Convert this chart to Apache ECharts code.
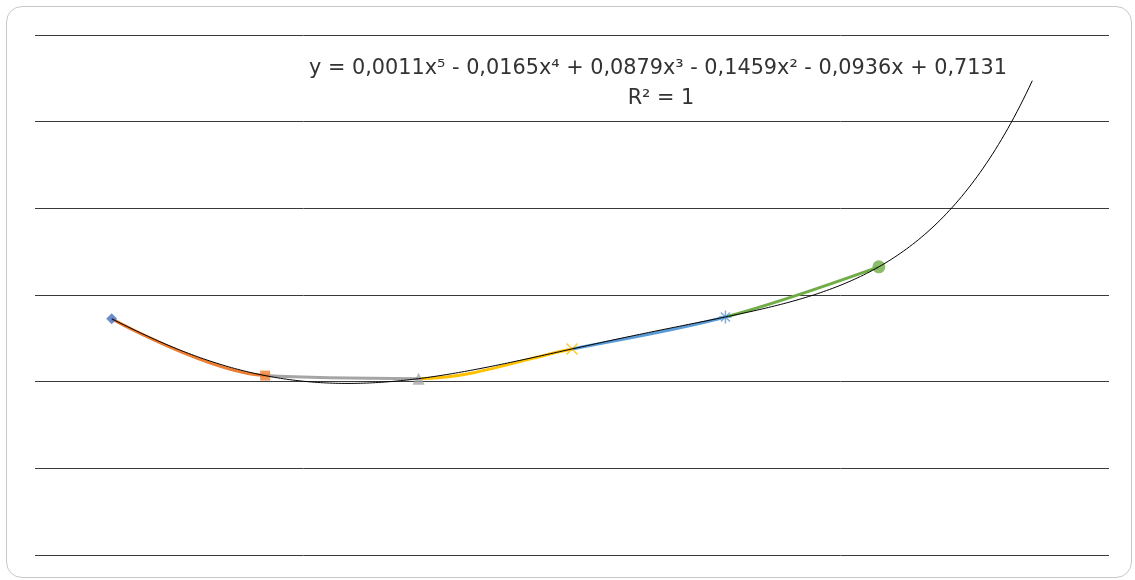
<!DOCTYPE html>
<html>
<head>
<meta charset="utf-8">
<script src="https://cdn.jsdelivr.net/npm/echarts@6/dist/echarts.min.js"></script>
<style>
  html, body { margin: 0; padding: 0; background: #ffffff; }
  #frame { position: absolute; left: 6px; top: 6px; width: 1126px; height: 572px; border: 1px solid #c8c8c8; border-radius: 16px; box-sizing: border-box; }
  #chart { position: absolute; left: 0; top: 0; width: 1135px; height: 580px; }
</style>
</head>
<body>
<div id="frame"></div>
<div id="chart"></div>
<script>
// ---- data ----
const xValues = [1, 2, 3, 4, 5, 6];
const yValues = [0.545, 0.414, 0.407, 0.4755, 0.5493, 0.665];
const pointSymbols = ['diamond', 'rect', 'triangle', 'x', 'star', 'circle'];
const pointColors = ['#4472C4', '#ED7D31', '#A5A5A5', '#FFC000', '#5B9BD5', '#70AD47'];
const segmentColors = ['#ED7D31', '#A5A5A5', '#FFC000', '#5B9BD5', '#70AD47'];
const trendDegree = 5;
const trendForward = 1;
const equationText = 'y = 0,0011x\u2075 - 0,0165x\u2074 + 0,0879x\u00B3 - 0,1459x\u00B2 - 0,0936x + 0,7131';
const r2Text = 'R\u00B2 = 1';

// ---- polynomial trendline (least-squares fit of the data) ----
function polyFit(xs, ys, deg) {
  const n = deg + 1;
  const A = [];
  for (let i = 0; i < n; i++) A.push(new Array(n + 1).fill(0));
  for (let k = 0; k < xs.length; k++) {
    for (let i = 0; i < n; i++) {
      for (let j = 0; j < n; j++) A[i][j] += Math.pow(xs[k], i + j);
      A[i][n] += ys[k] * Math.pow(xs[k], i);
    }
  }
  for (let c = 0; c < n; c++) {
    let p = c;
    for (let r = c + 1; r < n; r++) if (Math.abs(A[r][c]) > Math.abs(A[p][c])) p = r;
    [A[c], A[p]] = [A[p], A[c]];
    for (let r = 0; r < n; r++) {
      if (r === c) continue;
      const f = A[r][c] / A[c][c];
      for (let j = c; j <= n; j++) A[r][j] -= f * A[c][j];
    }
  }
  return A.map((row, i) => row[n] / row[i]);
}
const coef = polyFit(xValues, yValues, trendDegree);
const evalPoly = x => coef.reduce((s, c, i) => s + c * Math.pow(x, i), 0);
const trendData = [];
const xStart = xValues[0], xEnd = xValues[xValues.length - 1] + trendForward;
for (let i = 0; i <= 300; i++) {
  const x = xStart + (xEnd - xStart) * i / 300;
  trendData.push([x, evalPoly(x)]);
}

const xPath = 'path://M0,0L10,10M10,0L0,10';
const starPath = 'path://M5,0L5,10M0,5L10,5M1.5,1.5L8.5,8.5M8.5,1.5L1.5,8.5';

const series = [];
// smoothed connecting line, coloured per segment via visualMap
series.push({
  type: 'line',
  data: xValues.map((x, i) => [x, yValues[i]]),
  smooth: 0.35,
  showSymbol: false,
  symbol: 'none',
  lineStyle: { width: 3 },
  z: 2,
  silent: true
});
for (let i = 0; i < xValues.length; i++) {
  const sym = pointSymbols[i];
  let symbol = sym, size = 10, itemStyle = { color: pointColors[i] };
  if (sym === 'x') { symbol = xPath; size = 11; itemStyle = { color: 'none', borderColor: pointColors[i], borderWidth: 1.5 }; }
  if (sym === 'star') { symbol = starPath; size = 13; itemStyle = { color: 'none', borderColor: pointColors[i], borderWidth: 1.5 }; }
  if (sym === 'circle') size = 13;
  if (sym === 'diamond') size = 11;
  if (sym === 'triangle') size = 12;
  series.push({
    type: 'scatter',
    data: [[xValues[i], yValues[i]]],
    symbol: symbol,
    symbolSize: size,
    itemStyle: itemStyle,
    z: 3,
    silent: true
  });
}
series.push({
  type: 'line',
  data: trendData,
  showSymbol: false,
  symbol: 'none',
  lineStyle: { color: '#000000', width: 1 },
  z: 4,
  silent: true
});

const pieces = segmentColors.map((c, i) => ({ gte: xValues[i], lt: xValues[i + 1], color: c }));

const chart = echarts.init(document.getElementById('chart'), null, { renderer: 'canvas' });
chart.setOption({
  animation: false,
  backgroundColor: 'transparent',
  grid: { left: 35, right: 26, top: 35, bottom: 25 },
  visualMap: {
    show: false,
    type: 'piecewise',
    dimension: 0,
    seriesIndex: 0,
    pieces: pieces,
    outOfRange: { color: segmentColors[segmentColors.length - 1] }
  },
  xAxis: {
    type: 'value', min: 0.5, max: 7.5,
    show: false, splitLine: { show: false }
  },
  yAxis: {
    type: 'value', min: 0, max: 1.2, interval: 0.2,
    axisLine: { show: false }, axisTick: { show: false }, axisLabel: { show: false },
    splitLine: { show: true, lineStyle: { color: '#3a3a3a', width: 1 } }
  },
  graphic: [
    {
      type: 'text', x: 658, y: 69, z: 10,
      style: { text: equationText, fill: '#333333', align: 'center', verticalAlign: 'middle', font: '20.8px "DejaVu Sans", sans-serif' }
    },
    {
      type: 'text', x: 661, y: 99, z: 10,
      style: { text: r2Text, fill: '#333333', align: 'center', verticalAlign: 'middle', font: '20.8px "DejaVu Sans", sans-serif' }
    }
  ],
  series: series
});
</script>
</body>
</html>
